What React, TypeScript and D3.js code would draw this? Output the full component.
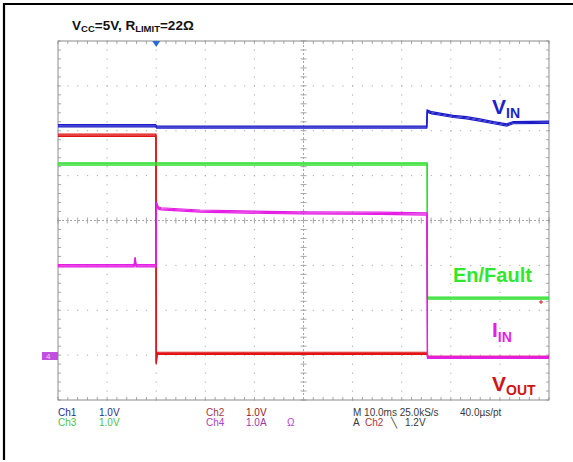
import React, { useEffect } from "react";
import * as d3 from "d3";

// Time axis in ms relative to the trigger, vertical axis in screen divisions (center = 0)
const timeDomain: [number, number] = [-20, 80];
const divDomain: [number, number] = [-4, 4];
const majorX = [-20, -10, 0, 10, 20, 30, 40, 50, 60, 70, 80];
const majorY = [-4, -3, -2, -1, 0, 1, 2, 3, 4];

// Ch1: V_IN
const vinTrace: [number, number][] = [
  [-20, 2.11], [-0.1, 2.11], [0.1, 2.08], [55.1, 2.08], [55.2, 2.44],
  [56.1, 2.4], [57.8, 2.37], [60.5, 2.32], [63.2, 2.29], [65.9, 2.24],
  [68.7, 2.18], [71.4, 2.13], [72.7, 2.18], [80, 2.19],
];
// Ch2: V_OUT
const voutTrace: [number, number][] = [
  [-20, 1.9], [-0.05, 1.9], [0, -3.18], [0.2, -2.96], [55.2, -2.96],
  [55.3, -3.05], [80, -3.05],
];
// Ch3: En/Fault
const enTrace: [number, number][] = [
  [-20, 1.26], [55.2, 1.26], [55.25, -1.73], [80, -1.73],
];
// Ch4: I_IN
const iinTrace: [number, number][] = [
  [-20, -1.01], [-4.5, -1.01], [-4.3, -0.84], [-4.1, -1.01], [-0.05, -1.01],
  [0.05, 0.39], [0.4, 0.28], [1.0, 0.26], [8.9, 0.21], [22.5, 0.18],
  [29.3, 0.17], [45.6, 0.16], [55.15, 0.145], [55.25, -3.05], [80, -3.05],
];

// Scope readout lines below the graticule
const readoutRow1 = [
  { text: "Ch1", x: 58, color: "#2a2a8c" },
  { text: "1.0V", x: 99, color: "#2a2a8c" },
  { text: "Ch2", x: 206, color: "#a83838" },
  { text: "1.0V", x: 246, color: "#8a1c1c" },
  { text: "M 10.0ms 25.0kS/s", x: 353, color: "#3a3a3a" },
  { text: "40.0\u00b5s/pt", x: 460, color: "#3a3a3a" },
];
const readoutRow2 = [
  { text: "Ch3", x: 58, color: "#4cc04c" },
  { text: "1.0V", x: 99, color: "#4cc04c" },
  { text: "Ch4", x: 206, color: "#b040c4" },
  { text: "1.0A", x: 246, color: "#9a3aa8" },
  { text: "\u03a9", x: 287, color: "#b040c4" },
  { text: "A", x: 353, color: "#3a3a3a" },
  { text: "Ch2", x: 365, color: "#a83838" },
  { text: "\u2572", x: 391, color: "#3a3a3a" },
  { text: "1.2V", x: 405, color: "#3a3a3a" },
];

const W = 573;
const H = 462;
const plot = { left: 58, right: 549, top: 41, bottom: 400 };

// A trace is drawn as a thin line stacked three times with small vertical
// offsets, so flat runs look like a noisy band while edges stay thin.
function Trace({ d, color }: { d: string; color: string }) {
  return (
    <g fill="none" stroke={color} strokeWidth={1.2}>
      <path d={d} transform="translate(0,-1.1)" />
      <path d={d} />
      <path d={d} transform="translate(0,1.1)" />
    </g>
  );
}

export default function App() {
  useEffect(() => {
    document.body.style.margin = "0";
  }, []);

  const x = d3.scaleLinear().domain(timeDomain).range([plot.left, plot.right]);
  const y = d3.scaleLinear().domain(divDomain).range([plot.bottom, plot.top]);
  const line = d3
    .line<[number, number]>()
    .x((d) => x(d[0]))
    .y((d) => y(d[1]))
    .curve(d3.curveLinear);

  const minorStepX = 2; // ms, 1/5 division
  const minorStepY = 0.2; // division
  const minorXs = d3.range(timeDomain[0], timeDomain[1] + 0.001, minorStepX);
  const minorYs = d3.range(divDomain[0], divDomain[1] + 0.001, minorStepY);

  const gridColor = "#a8a8a8";
  const sans = "'Liberation Sans', Arial, Helvetica, sans-serif";

  return (
    <svg
      width={W}
      height={H}
      style={{ position: "absolute", left: 0, top: 0, background: "#fff" }}
      fontFamily={sans}
    >
      <rect x={0} y={0} width={W} height={H} fill="#fff" />
      {/* frame */}
      <line x1={3} x2={W} y1={4} y2={4} stroke="#000" strokeWidth={2.2} />
      <line x1={4} x2={4} y1={3} y2={460} stroke="#000" strokeWidth={2.2} />

      {/* graticule dots on the major lines */}
      <g fill={gridColor}>
        {majorX.slice(1, -1).map((t) =>
          minorYs.map((v) => (
            <rect key={`vx${t}_${v}`} x={x(t) - 0.5} y={y(v) - 0.5} width={1} height={1.2} />
          ))
        )}
        {majorY.slice(1, -1).map((v) =>
          minorXs.map((t) => (
            <rect key={`hy${v}_${t}`} x={x(t) - 0.5} y={y(v) - 0.5} width={1.2} height={1} />
          ))
        )}
      </g>

      {/* center cross with minor ticks */}
      <g stroke={gridColor} strokeWidth={1}>
        <line x1={x(30)} x2={x(30)} y1={plot.top} y2={plot.bottom} strokeDasharray="2,2" />
        <line x1={plot.left} x2={plot.right} y1={y(0)} y2={y(0)} strokeDasharray="2,2" />
        {minorYs.map((v) => (
          <line key={`cy${v}`} x1={x(30) - 3} x2={x(30) + 3} y1={y(v)} y2={y(v)} />
        ))}
        {minorXs.map((t) => (
          <line key={`cx${t}`} x1={x(t)} x2={x(t)} y1={y(0) - 3} y2={y(0) + 3} />
        ))}
      </g>

      {/* border ticks */}
      <g stroke={gridColor} strokeWidth={1}>
        {minorXs.map((t) => (
          <g key={`bt${t}`}>
            <line x1={x(t)} x2={x(t)} y1={plot.top} y2={plot.top + 3} />
            <line x1={x(t)} x2={x(t)} y1={plot.bottom} y2={plot.bottom - 3} />
          </g>
        ))}
        {minorYs.map((v) => (
          <g key={`bl${v}`}>
            <line x1={plot.left} x2={plot.left + 3} y1={y(v)} y2={y(v)} />
            <line x1={plot.right} x2={plot.right - 3} y1={y(v)} y2={y(v)} />
          </g>
        ))}
      </g>
      <rect
        x={plot.left}
        y={plot.top}
        width={plot.right - plot.left}
        height={plot.bottom - plot.top}
        fill="none"
        stroke="#8c8c8c"
        strokeWidth={1}
      />

      {/* traces */}
      <Trace d={line(vinTrace) ?? ""} color="#1c1cc8" />
      <Trace d={line(voutTrace) ?? ""} color="#e01414" />
      <Trace d={line(enTrace) ?? ""} color="#2ee02e" />
      <Trace d={line(iinTrace) ?? ""} color="#e41ee4" />

      {/* trigger position marker */}
      <path
        d={`M${x(0) - 4},${plot.top} L${x(0) + 4},${plot.top} L${x(0)},${plot.top + 6} Z`}
        fill="#2a6ad8"
      />
      {/* trigger level marker */}
      <g stroke="#c82020" strokeWidth={1}>
        <line x1={539} x2={543} y1={302} y2={302} />
        <line x1={541} x2={541} y1={300} y2={304} />
      </g>
      {/* Ch4 ground marker */}
      <rect x={42} y={352} width={16} height={8} fill="#c050e0" />
      <text x={46} y={359} fontSize={8} fill="#f0d0f8">
        4
      </text>

      {/* title */}
      <text x={72} y={30} fontSize={13.5} fontWeight="bold" fill="#111">
        V<tspan fontSize={9.5} dy={2}>CC</tspan>
        <tspan dy={-2}>=5V, R</tspan>
        <tspan fontSize={9.5} dy={2}>LIMIT</tspan>
        <tspan dy={-2}>{"=22\u03a9"}</tspan>
      </text>

      {/* channel labels */}
      <text x={492} y={114} fontSize={21} fontWeight="bold" fill="#1c22cc">
        V<tspan fontSize={14} dy={4}>IN</tspan>
      </text>
      <text x={453} y={282} fontSize={20} fontWeight="bold" fill="#2ee82e">
        En/Fault
      </text>
      <text x={492} y={337} fontSize={21} fontWeight="bold" fill="#e41ee4">
        I<tspan fontSize={14} dy={5}>IN</tspan>
      </text>
      <text x={492} y={391} fontSize={21} fontWeight="bold" fill="#d01414">
        V<tspan fontSize={14} dy={4}>OUT</tspan>
      </text>

      {/* readout */}
      {readoutRow1.map((r) => (
        <text key={`r1${r.x}`} x={r.x} y={416} fontSize={10} fill={r.color}>
          {r.text}
        </text>
      ))}
      {readoutRow2.map((r) => (
        <text key={`r2${r.x}`} x={r.x} y={426} fontSize={10} fill={r.color}>
          {r.text}
        </text>
      ))}
    </svg>
  );
}
